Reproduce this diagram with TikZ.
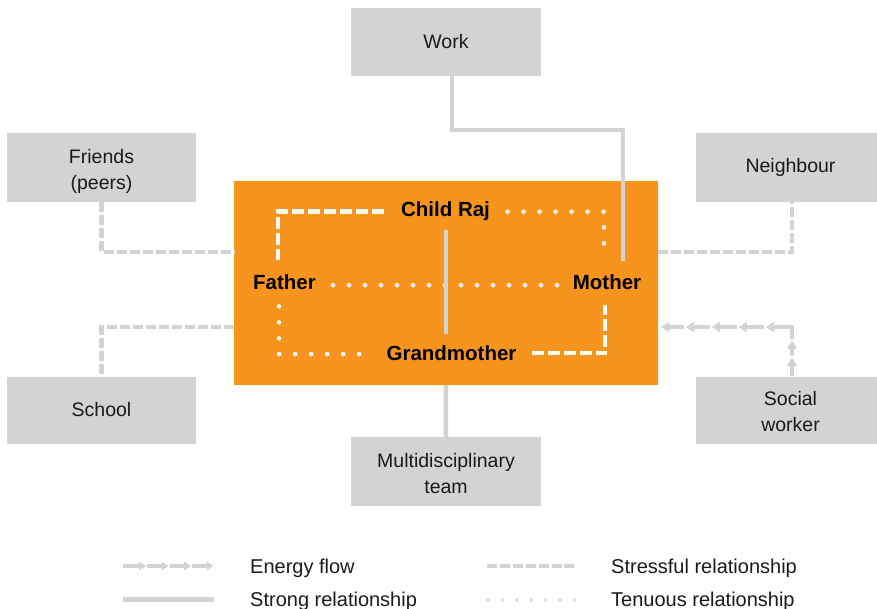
\documentclass[tikz,border=0pt]{standalone}
\usepackage{fontspec}
\setmainfont{Liberation Sans}
\usetikzlibrary{arrows.meta,decorations.markings}
\definecolor{orng}{HTML}{F7941E}
\definecolor{boxg}{HTML}{D1D3D4}
\definecolor{lineg}{HTML}{D1D3D4}
\definecolor{txt}{HTML}{1A1A1A}
\newcommand\efheadbig{\fill[white] (-7.5pt,-2.6pt) rectangle (2pt,2.6pt);
  \fill[lineg] (0.5pt,0pt) -- (-7.5pt,5.2pt) -- (-7.5pt,-5.2pt) -- cycle;}
\newcommand\efheadsmall{\fill[white] (-6.5pt,-2.4pt) rectangle (1.8pt,2.4pt);
  \fill[lineg] (0.5pt,0pt) -- (-6.5pt,4.5pt) -- (-6.5pt,-4.5pt) -- cycle;}
\tikzset{
  box/.style={fill=boxg, inner sep=0pt, align=center, text=txt,
    font=\fontsize{19.5}{26}\selectfont},
  btext/.style={inner sep=0pt, align=center, text=txt,
    font=\fontsize{19.5}{26}\selectfont},
  fam/.style={font=\fontsize{20.5}{24}\selectfont\bfseries, text=black,
    inner sep=0pt, anchor=base},
  strong/.style={draw=lineg, line width=4.5pt},
  stress/.style={draw=lineg, line width=4.5pt, dash pattern=on 10pt off 3pt},
  wstress/.style={draw=white, line width=4.5pt, dash pattern=on 12pt off 4pt},
  wtenuous/.style={draw=white, line width=4.5pt, line cap=round,
    dash pattern=on 0pt off 16pt},
  gtenuous/.style={draw=lineg, line width=3.6pt, line cap=round,
    dash pattern=on 0pt off 14.4pt},
  eflow/.style={draw=lineg, line width=3.8pt, postaction=decorate},
  legtext/.style={font=\fontsize{20}{24}\selectfont, text=txt,
    anchor=base west, inner sep=0pt},
}
\begin{document}
\begin{tikzpicture}[x=1pt,y=-1pt]
\useasboundingbox (0,0) rectangle (877,609);
\coordinate (r1) at (0,252);
\coordinate (r2) at (0,327);

% outer boxes
\node[box, minimum width=190pt, minimum height=68pt] (work) at (446,42) {Work};
\node[box, minimum width=189pt, minimum height=69pt] (friends) at (101.5,167.5) {};
\node[btext] (friendsT) at ([yshift=-4pt]friends.center) {Friends\\(peers)};
\node[box, minimum width=189pt, minimum height=69pt] (neigh) at (790.5,167.5) {Neighbour};
\node[box, minimum width=189pt, minimum height=67pt] (school) at (101.5,410) {School};
\node[box, minimum width=190pt, minimum height=69pt] (mdt) at (446,471.5) {};
\node[btext] (mdtT) at ([yshift=-2pt]mdt.center) {Multidisciplinary\\team};
\node[box, minimum width=189pt, minimum height=67pt] (social) at (790.5,410) {};
\node[btext] (socialT) at ([yshift=-2pt]social.center) {Social\\worker};

% family box
\node[fill=orng, minimum width=423.5pt, minimum height=204pt, inner sep=0pt] (family) at (445.75,283) {};

% family members
\node[fam] (child) at (445.5,217) {Child Raj};
\node[fam] (father) at (284.5,290) {Father};
\node[fam] (mother) at (607,290) {Mother};
\node[fam] (grand) at (451.5,360) {Grandmother};

% outer connectors
\draw[stress] (friends.south) |- (family.west |- r1);
\draw[stress] (family.west |- r2) -| (school.north);
\draw[stress] (family.east |- r1) -| ([xshift=1.5pt]neigh.south);
\draw[eflow, decoration={markings,
    mark=at position 18pt with {\efheadbig},
    mark=at position 35pt with {\efheadbig},
    mark=at position 75pt with {\efheadbig},
    mark=at position 102pt with {\efheadbig},
    mark=at position 129pt with {\efheadbig},
    mark=at position 155pt with {\efheadbig},
    mark=at position 1 with {\efheadbig}}]
  ([xshift=1.5pt]social.north) |- ([xshift=4pt]family.east |- r2);
\draw[strong] (family.south) -- (mdt.north);

% inner connectors
\draw[wstress, shorten <=16.5pt, shorten >=15pt] (child.west) -| ([xshift=-6.5pt]father.north);
\draw[wtenuous, shorten <=17.5pt, shorten >=17pt] (child.east) -| ([xshift=-3pt]mother.north);
\draw[wtenuous, shorten <=17pt, shorten >=13pt] ([yshift=-2.5pt]father.east) -- ([yshift=-2.5pt]mother.west);
\draw[wtenuous, shorten <=16pt, shorten >=25pt] ([xshift=-5.5pt]father.south) |- ([yshift=-1.5pt]grand.west);
\draw[wstress, shorten <=15pt, shorten >=15pt] ([yshift=-0.5pt]grand.east) -| ([xshift=-2pt]mother.south);
\draw[strong, shorten <=9pt, shorten >=11pt] ([xshift=0.5pt]child.south) -- ([xshift=0.5pt]child.south |- grand.north);

% work to mother
\draw[strong, shorten >=14pt] ([xshift=6pt]work.south) |- (623,130) -- ([xshift=16pt]mother.north);

% legend
\coordinate (la1) at (123,566); \coordinate (la2) at (213,566);
\coordinate (lb1) at (123,599.5); \coordinate (lb2) at (214,599.5);
\coordinate (lc1) at (487,566); \coordinate (lc2) at (577,566);
\coordinate (ld1) at (488,600); \coordinate (ld2) at (575,600);
\draw[eflow, line width=3.5pt, decoration={markings,
    mark=at position 0.25 with {\efheadsmall},
    mark=at position 0.5 with {\efheadsmall},
    mark=at position 0.75 with {\efheadsmall},
    mark=at position 1 with {\efheadsmall}}] (la1) -- (la2);
\draw[strong] (lb1) -- (lb2);
\draw[stress, line width=4pt, dash pattern=on 10pt off 2.9pt] (lc1) -- (lc2);
\draw[gtenuous] (ld1) -- (ld2);
\node[legtext] (lt1) at (250,573) {Energy flow};
\node[legtext] (lt2) at (250,606.5) {Strong relationship};
\node[legtext] (lt3) at (611,573) {Stressful relationship};
\node[legtext] (lt4) at (611,606.5) {Tenuous relationship};
\end{tikzpicture}
\end{document}
